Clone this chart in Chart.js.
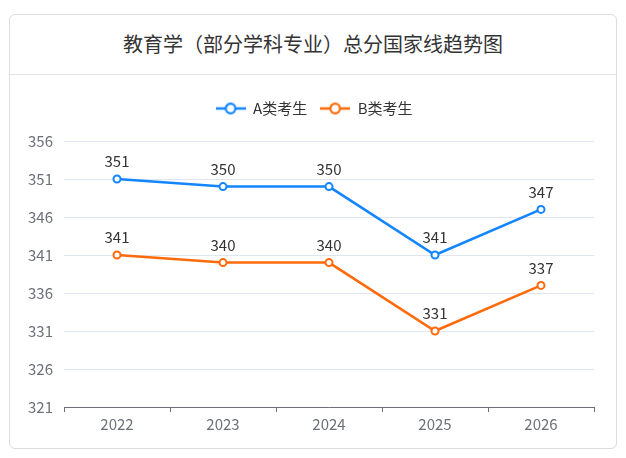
<!DOCTYPE html>
<html>
<head>
<meta charset="utf-8">
<script src="https://cdn.jsdelivr.net/npm/chart.js@4/dist/chart.umd.min.js"></script>
<style>
  html, body { margin: 0; padding: 0; background: #fff; }
  body { width: 626px; height: 458px; position: relative; font-family: "Noto Sans CJK SC", "Noto Sans", sans-serif; }
  .card {
    position: absolute; left: 9px; top: 14px; width: 606px; height: 433px;
    border: 1px solid #dcdcdc; border-radius: 6px; background: #fff;
  }
  .card-title {
    height: 59px; line-height: 58px; text-align: center;
    font-size: 20px; color: #333; border-bottom: 1px solid #e4e4e4;
  }
  .chart-box { position: absolute; left: 0; top: 60px; width: 606px; height: 373px; }
</style>
</head>
<body>
<div class="card">
  <div class="card-title">教育学（部分学科专业）总分国家线趋势图</div>
  <div class="chart-box"><canvas id="trend"></canvas></div>
</div>
<script>
// data
const years = ['2022', '2023', '2024', '2025', '2026'];
const scoresA = [351, 350, 350, 341, 347];
const scoresB = [341, 340, 340, 331, 337];
const yTicks = [321, 326, 331, 336, 341, 346, 351, 356];

const BLUE = '#1385ff';
const ORANGE = '#ff6a0a';
const FONT = '"Noto Sans CJK SC", "Noto Sans", sans-serif';

// legend marker: short line with a hollow circle in the middle
function legendIcon(color) {
  const c = document.createElement('canvas');
  c.width = 30; c.height = 14;
  const g = c.getContext('2d');
  g.strokeStyle = color;
  g.lineWidth = 2.5;
  g.beginPath(); g.moveTo(0, 7); g.lineTo(30, 7); g.stroke();
  g.fillStyle = '#fff';
  g.lineWidth = 2.2;
  g.beginPath(); g.arc(15, 7, 4.8, 0, Math.PI * 2); g.fill(); g.stroke();
  return c;
}

// value labels above each point
const valueLabels = {
  id: 'valueLabels',
  afterDatasetsDraw(chart) {
    const ctx = chart.ctx;
    ctx.save();
    ctx.font = '15px ' + FONT;
    ctx.fillStyle = '#333';
    ctx.textAlign = 'center';
    ctx.textBaseline = 'bottom';
    chart.data.datasets.forEach((ds, i) => {
      chart.getDatasetMeta(i).data.forEach((pt, j) => {
        ctx.fillText(ds.data[j], pt.x, pt.y - 10);
      });
    });
    ctx.restore();
  }
};

// extra space under the legend, and keep it centred on the whole canvas
const legendGap = {
  id: 'legendGap',
  beforeInit(chart) {
    const fit = chart.legend.fit;
    chart.legend.fit = function () {
      fit.call(this);
      this.height += 15;
    };
  },
  afterLayout(chart) {
    chart.legend.left += 12;
    chart.legend.right += 12;
  }
};

const makeSet = (label, data, color) => ({
  label: label,
  data: data,
  borderColor: color,
  backgroundColor: color,
  borderWidth: 2.5,
  pointRadius: 3.5,
  pointBorderWidth: 2,
  pointBackgroundColor: '#fff',
  pointBorderColor: color,
  tension: 0
});

new Chart(document.getElementById('trend'), {
  type: 'line',
  data: {
    labels: years,
    datasets: [
      makeSet('A类考生', scoresA, BLUE),
      makeSet('B类考生', scoresB, ORANGE)
    ]
  },
  options: {
    responsive: true,
    maintainAspectRatio: false,
    animation: false,
    layout: { padding: { left: 0, right: 22, top: 13, bottom: 0 } },
    plugins: {
      legend: {
        position: 'top',
        labels: {
          color: '#333',
          font: { size: 15, family: FONT },
          usePointStyle: true,
          pointStyleWidth: 30,
          padding: 13,
          generateLabels(chart) {
            return chart.data.datasets.map((ds, i) => ({
              text: ds.label,
              pointStyle: legendIcon(ds.borderColor),
              fontColor: '#333',
              lineWidth: 0,
              strokeStyle: 'transparent',
              fillStyle: 'transparent',
              datasetIndex: i,
              hidden: !chart.isDatasetVisible(i)
            }));
          }
        }
      },
      tooltip: { enabled: false }
    },
    scales: {
      x: {
        offset: true,
        grid: { display: true, drawOnChartArea: false, drawTicks: true, tickLength: 5, offset: true, color: '#6e7079' },
        border: { display: true, color: '#6e7079', width: 1 },
        ticks: { color: '#6e7079', font: { size: 15, family: FONT }, padding: 3 },
        afterFit(axis) { axis.height = 41; }
      },
      y: {
        min: 321,
        max: 356,
        afterBuildTicks(axis) { axis.ticks = yTicks.map(v => ({ value: v })); },
        grid: { color: '#e0e6f1', drawTicks: false },
        border: { display: false },
        ticks: { color: '#6e7079', font: { size: 15, family: FONT }, padding: 11 },
        afterFit(axis) { axis.width = 54; }
      }
    }
  },
  plugins: [valueLabels, legendGap]
});
</script>
</body>
</html>
